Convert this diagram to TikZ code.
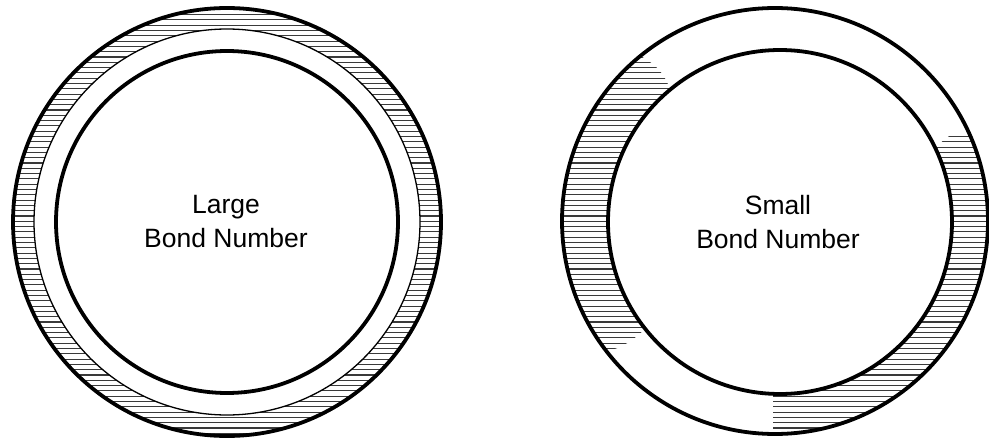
\documentclass[tikz,border=0pt]{standalone}
\usepackage{fontspec}
\setmainfont{Liberation Sans}
\usetikzlibrary{positioning}
\definecolor{cink}{HTML}{000000}
\definecolor{chatch}{HTML}{3A3A3A}
\tikzset{
  every picture/.style={line width=3.8pt},
  wall/.style={draw=cink, line width=3.8pt},
  film/.style={draw=cink, line width=1.3pt},
  hatch/.style={draw=chatch, line width=1.1pt},
  caption/.style={font=\fontsize{26.5}{34}\selectfont, align=center, text=cink},
}

\begin{document}
\begin{tikzpicture}[x=1pt, y=-1pt]
  \useasboundingbox (0,0) rectangle (989,444);
  % large bond number: even film all round
  \begin{scope}
    \clip (227,222) circle (214);
    \foreach \y in {4,9.3,...,442} \draw[hatch] (0,\y) -- (450,\y);
  \end{scope}
  \fill[white] (227,222) circle (193);
  \draw[film] (227,222) circle (193);
  \draw[wall] (227,222) circle (214);
  \draw[wall] (227,222) circle (171);
  \node[caption] (large) at (226,222) {Large\\Bond Number};
  % small bond number: film pooled on two sides
  \begin{scope}
    \clip (775,221) circle (213);
    \clip (540,40) -- (632,52) .. controls (650,60) and (664,70) .. (670,90)
      -- (760,200) -- (652,322) .. controls (640,334) and (630,344) .. (612,350)
      -- (540,352) -- cycle;
    \foreach \y in {4,9.3,...,442} \draw[hatch] (540,\y) -- (780,\y);
  \end{scope}
  \begin{scope}
    \clip (775,221) circle (213);
    \clip (955,133) -- (1000,133) -- (1000,450) -- (773,450) -- (773,330)
      -- (900,250) -- (935,150) .. controls (940,142) and (948,136) .. cycle;
    \foreach \y in {4,9.3,...,442} \draw[hatch] (760,\y) -- (1000,\y);
  \end{scope}
  \fill[white] (780,222) circle (172);
  \draw[wall] (775,221) circle (213);
  \draw[wall] (780,222) circle (172);
  \node[caption] (small) at (778,222) {Small\\Bond Number};
\end{tikzpicture}
\end{document}
